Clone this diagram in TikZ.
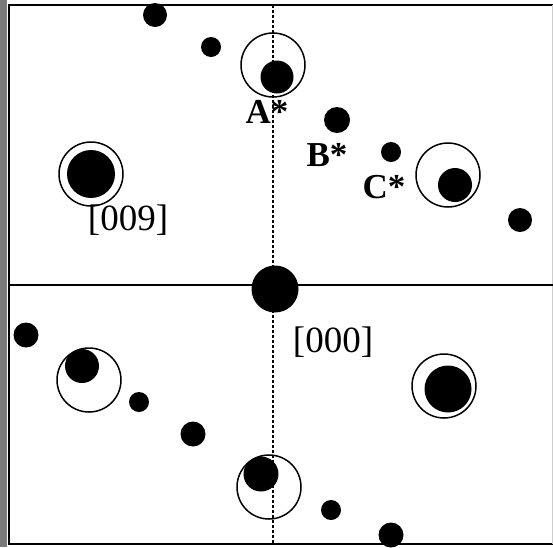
\documentclass[tikz,border=0pt]{standalone}
\usepackage{fontspec}
\setmainfont{Liberation Serif}
\usetikzlibrary{positioning}
\tikzstyle{spot}=[circle,fill=black,inner sep=0pt]
\tikzstyle{ring}=[circle,draw=black,line width=1.5pt,inner sep=0pt,minimum size=64pt]

\begin{document}
\begin{tikzpicture}[x=1pt,y=-1pt]
	\tikzstyle{lab}=[inner sep=0pt,font=\fontsize{37}{37}\selectfont]
	\tikzstyle{spotlab}=[lab,font=\fontsize{35}{35}\selectfont\bfseries]
	\tikzstyle{frameline}=[line width=2pt]

	\useasboundingbox (0,0) rectangle (553,547);
	\fill[gray!70!black!80] (0,0) rectangle (7,547);

	% frame and axes
	\coordinate (tl) at (9,5);
	\coordinate (tr) at (553,5);
	\coordinate (bl) at (9,544);
	\coordinate (br) at (553,544);
	\draw[frameline] (tr) -- (tl) -- (bl) -- (br);
	\draw[gray!40,line width=1pt] (552,5) -- (552,544);
	\coordinate (hl) at (9,285);
	\coordinate (hr) at (553,285);
	\coordinate (vt) at (273,5);
	\coordinate (vb) at (273,544);
	\draw[line width=1.4pt] (hl) -- (hr);
	\draw[line width=1.4pt,dash pattern=on 3pt off 2pt] (vt) -- (vb);

	% upper half
	\node[spot,minimum size=24pt]	(u1)	at (155,15)	{};
	\node[spot,minimum size=20pt]	(u2)	at (211,47)	{};
	\node[ring]			(ra)	at (273,65)	{};
	\node[spot,minimum size=33pt]	(a)	at (277,77)	{};
	\node[spot,minimum size=26pt]	(b)	at (337,120)	{};
	\node[spot,minimum size=20pt]	(c)	at (391,152)	{};
	\node[ring]			(rc)	at (448,175)	{};
	\node[spot,minimum size=34pt]	(u3)	at (455,185)	{};
	\node[spot,minimum size=24pt]	(u4)	at (520,220)	{};
	\node[ring]			(r009)	at (91,174)	{};
	\node[spot,minimum size=48pt]	(s009)	at (91,174)	{};

	% lower half
	\node[spot,minimum size=25pt]	(l1)	at (26,335)	{};
	\node[ring]			(rl1)	at (89,380)	{};
	\node[spot,minimum size=34pt]	(l2)	at (82,366)	{};
	\node[spot,minimum size=20pt]	(l3)	at (139,402)	{};
	\node[spot,minimum size=25pt]	(l4)	at (193,434)	{};
	\node[ring]			(rl2)	at (269,487)	{};
	\node[spot,minimum size=35pt]	(l5)	at (261,474)	{};
	\node[spot,minimum size=20pt]	(l6)	at (331,510)	{};
	\node[spot,minimum size=25pt]	(l7)	at (391,535)	{};
	\node[ring]			(rl3)	at (444,386)	{};
	\node[spot,minimum size=47pt]	(l8)	at (448,389)	{};

	% origin
	\node[spot,minimum size=47pt]	(s000)	at (275,289)	{};

	% labels
	\node[spotlab]	(la)	at (267,112)	{A*};
	\node[spotlab]	(lb)	at (327,155)	{B*};
	\node[spotlab]	(lc)	at (384,187)	{C*};
	\node[lab]	(l009)	at (128,220)	{[009]};
	\node[lab]	(l000)	at (333,342)	{[000]};
\end{tikzpicture}
\end{document}
